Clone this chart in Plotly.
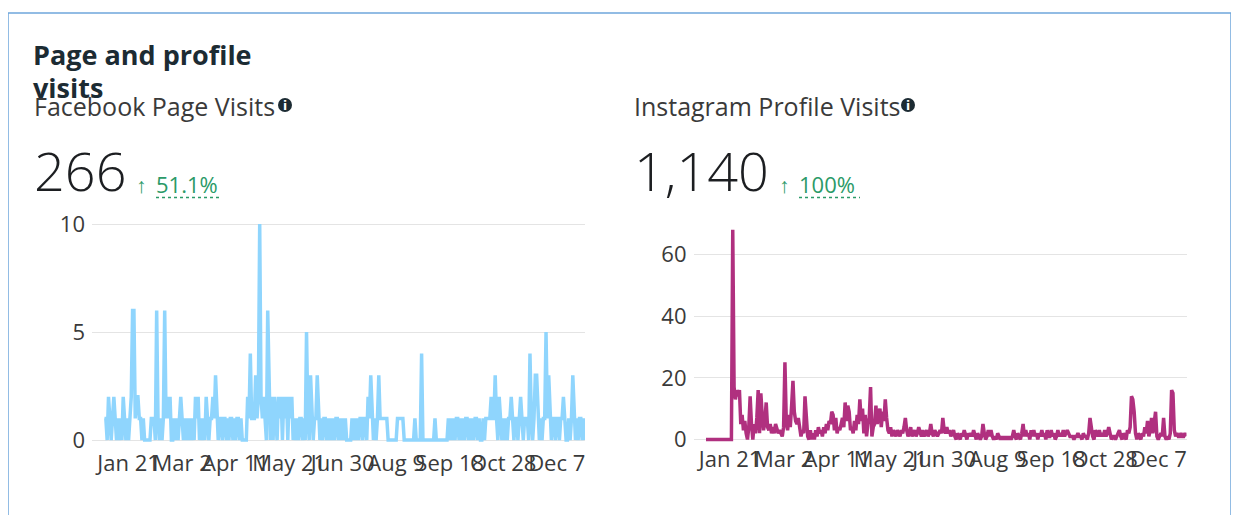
import pandas as pd
import plotly.graph_objects as go


# =====================================================
# DATA
# =====================================================

start_date = "2023-01-03"

fb_visits = [
    1, 1, 0, 2, 1, 0, 1, 2, 1, 0, 1, 0, 1, 0, 2, 1, 0, 1, 0, 1,
    2, 6, 6, 1, 2, 2, 1, 1, 0, 1, 0, 0, 0, 0, 0, 1, 1, 1, 0, 6,
    1, 0, 1, 0, 1, 6, 1, 2, 1, 2, 0, 0, 1, 0, 1, 0, 1, 2, 1, 0,
    1, 0, 1, 0, 1, 0, 1, 0, 2, 1, 2, 0, 1, 0, 1, 0, 2, 1, 0, 1,
    1, 2, 1, 3, 1, 0, 1, 1, 0, 1, 1, 0, 1, 0, 1, 1, 0, 1, 0, 1,
    1, 0, 1, 0, 0, 0, 0, 2, 1, 4, 1, 1, 1, 3, 1, 2, 10, 2, 1, 2,
    1, 0, 6, 2, 0, 2, 0, 2, 1, 0, 2, 1, 2, 0, 2, 1, 2, 0, 2, 1,
    2, 0, 1, 0, 1, 0, 1, 1, 0, 1, 0, 5, 1, 0, 3, 1, 0, 1, 1, 3,
    1, 0, 1, 0, 1, 1, 0, 1, 0, 1, 0, 1, 0, 1, 1, 0, 1, 0, 1, 0,
    1, 0, 0, 0, 0, 1, 0, 1, 0, 1, 0, 1, 1, 0, 1, 1, 0, 2, 1, 3,
    1, 0, 1, 0, 1, 3, 1, 1, 1, 1, 1, 1, 0, 0, 0, 0, 0, 0, 0, 1,
    1, 1, 1, 1, 0, 0, 0, 0, 0, 0, 0, 0, 1, 0, 0, 0, 0, 4, 0, 0,
    0, 0, 0, 0, 0, 0, 0, 1, 0, 0, 0, 0, 0, 0, 0, 0, 0, 1, 0, 1,
    0, 1, 0, 1, 1, 0, 1, 0, 1, 0, 1, 1, 0, 1, 0, 1, 0, 1, 1, 0,
    1, 0, 0, 1, 0, 1, 1, 1, 1, 2, 1, 1, 3, 1, 0, 2, 1, 0, 1, 0,
    1, 0, 1, 1, 2, 1, 0, 1, 1, 0, 1, 2, 1, 0, 1, 1, 1, 0, 4, 1,
    0, 1, 3, 3, 1, 0, 1, 0, 1, 1, 5, 1, 3, 1, 0, 1, 1, 0, 1, 1,
    0, 1, 1, 2, 1, 0, 0, 1, 0, 1, 3, 1, 0, 1, 0, 1, 1, 0, 1, 0,
]

ig_visits = [
    0, 0, 0, 0, 0, 0, 0, 0, 0, 0, 0, 0, 0, 0, 0, 0, 0, 0, 0, 0,
    68, 17, 13, 16, 14, 16, 5, 8, 3, 6, 2, 0, 4, 14, 5, 0, 5, 2, 7, 16,
    2, 15, 8, 3, 6, 12, 4, 3, 5, 2, 4, 2, 5, 3, 2, 3, 2, 1, 4, 25,
    6, 3, 8, 4, 11, 19, 9, 6, 5, 7, 4, 1, 3, 2, 14, 6, 1, 0, 3, 0,
    2, 0, 3, 1, 4, 2, 3, 1, 4, 2, 5, 3, 6, 5, 9, 8, 3, 7, 2, 4,
    3, 5, 7, 4, 12, 6, 11, 9, 3, 4, 2, 6, 3, 8, 5, 13, 6, 10, 2, 8,
    1, 5, 7, 17, 1, 4, 5, 11, 5, 8, 10, 4, 9, 6, 13, 7, 3, 2, 4, 1,
    3, 2, 1, 3, 2, 1, 3, 2, 4, 7, 3, 1, 2, 4, 1, 2, 3, 1, 2, 4,
    2, 1, 3, 1, 2, 3, 1, 2, 5, 2, 1, 3, 2, 1, 2, 3, 2, 7, 3, 2,
    4, 2, 3, 1, 2, 3, 1, 0, 2, 1, 0, 2, 1, 3, 1, 0, 2, 1, 2, 1,
    3, 1, 0, 2, 1, 0, 1, 5, 2, 0, 1, 3, 1, 3, 1, 0, 1, 0, 2, 1,
    0, 1, 0, 1, 0, 1, 0, 1, 0, 1, 3, 1, 0, 2, 1, 0, 2, 5, 1, 3,
    1, 2, 0, 3, 1, 3, 1, 2, 0, 2, 1, 3, 1, 2, 0, 3, 1, 1, 3, 1,
    2, 0, 1, 3, 1, 2, 1, 3, 1, 2, 3, 2, 1, 1, 1, 0, 1, 1, 2, 1,
    1, 0, 2, 1, 1, 0, 2, 7, 4, 1, 0, 3, 2, 1, 3, 1, 2, 1, 3, 1,
    2, 4, 2, 0, 1, 1, 0, 1, 2, 3, 1, 0, 2, 1, 0, 3, 2, 4, 14, 13,
    9, 2, 0, 2, 1, 0, 2, 1, 4, 2, 6, 1, 3, 7, 2, 5, 9, 1, 0, 1,
    2, 1, 7, 1, 0, 1, 0, 2, 16, 15, 3, 1, 2, 1, 1, 2, 1, 1, 2, 1,
]

tick_dates = [
    "2023-01-21", "2023-03-02", "2023-04-11", "2023-05-21", "2023-06-30",
    "2023-08-09", "2023-09-18", "2023-10-28", "2023-12-07",
]
tick_labels = [
    "Jan 21", "Mar 2", "Apr 11", "May 21", "Jun 30",
    "Aug 9", "Sep 18", "Oct 28", "Dec 7",
]

fb_total = "266"
fb_change = "51.1%"
ig_total = "1,140"
ig_change = "100%"

fb_dates = pd.date_range(start_date, periods=len(fb_visits), freq="D")
ig_dates = pd.date_range(start_date, periods=len(ig_visits), freq="D")


# =====================================================
# LAYOUT HELPERS (screen pixel -> paper)
# the page body adds an 8px margin, so shift by it
# =====================================================

W, H = 1239, 515
OFF = 8


def px(x):
    return (x - OFF) / W


def py(y):
    return 1 - (y - OFF) / H


FONT = "Segoe UI, Open Sans, sans-serif"
GREEN = "#2B9A68"
DARK = "#1C2B33"
TEXT = "#3A3A3A"

x_range = ["2022-12-24 16:00", "2023-12-28 03:00"]


# =====================================================
# FIGURE
# =====================================================

fig = go.Figure()

fig.add_trace(go.Scatter(
    x=fb_dates, y=fb_visits,
    mode="lines",
    line=dict(color="#8FD5FD", width=3.5),
    xaxis="x", yaxis="y",
    name="Facebook Page Visits",
))

fig.add_trace(go.Scatter(
    x=ig_dates, y=ig_visits,
    mode="lines",
    line=dict(color="#B0307F", width=3.5),
    xaxis="x2", yaxis="y2",
    name="Instagram Profile Visits",
))

xaxis_common = dict(
    type="date",
    range=x_range,
    tickvals=tick_dates,
    ticktext=tick_labels,
    showgrid=False,
    zeroline=False,
    showline=False,
    ticks="",
    tickangle=0,
    tickfont=dict(family=FONT, size=22, color=TEXT),
    ticklabelstandoff=0,
    automargin=False,
    fixedrange=True,
)

yaxis_common = dict(
    showgrid=True,
    gridcolor="#E4E4E4",
    gridwidth=1,
    zeroline=False,
    showline=False,
    ticks="",
    tickfont=dict(family=FONT, size=22, color=TEXT),
    ticklabelstandoff=6,
    automargin=False,
    fixedrange=True,
)

fig.update_layout(
    width=W,
    height=H,
    autosize=False,
    margin=dict(l=0, r=0, t=0, b=0, pad=0),
    paper_bgcolor="white",
    plot_bgcolor="white",
    showlegend=False,
    hovermode=False,
    font=dict(family=FONT),

    xaxis=dict(domain=[px(92), px(585)], anchor="y", **xaxis_common),
    yaxis=dict(
        domain=[py(447.6), py(219.7)], anchor="x",
        range=[-0.35, 10.2], tickvals=[0, 5, 10],
        **yaxis_common
    ),

    xaxis2=dict(domain=[px(693.5), px(1186.5)], anchor="y2", **xaxis_common),
    yaxis2=dict(
        domain=[py(444.1), py(223.7)], anchor="x2",
        range=[-1.5, 70], tickvals=[0, 20, 40, 60],
        **yaxis_common
    ),
)


# =====================================================
# CARD BORDER + HEADERS
# =====================================================

fig.add_shape(
    type="rect", xref="paper", yref="paper",
    x0=px(8), x1=px(1231), y0=-0.2, y1=py(13),
    line=dict(color="#6FA6DB", width=1.5),
    fillcolor="rgba(0,0,0,0)", layer="below",
)


def label(text, x, y, size, color, anchor="left", weight=None, family=FONT):
    fig.add_annotation(
        text=text, xref="paper", yref="paper",
        x=px(x), y=py(y),
        xanchor=anchor, yanchor="middle", showarrow=False,
        font=dict(family=family, size=size, color=color, weight=weight),
    )


label("<b>Page and profile</b>", 31, 54, 27, DARK)
label("<b>visits</b>", 31, 88, 27, DARK)

panels = [
    (32, "Facebook Page Visits", 285, fb_total, 134, 154, 221, fb_change),
    (632, "Instagram Profile Visits", 908, ig_total, 777, 797, 860, ig_change),
]

for x0, title, icon_x, total, arrow_x, pct_x, pct_end, change in panels:

    label(title, x0, 106, 25, TEXT)

    # info icon
    fig.add_shape(
        type="circle", xref="paper", yref="paper",
        x0=px(icon_x - 7), x1=px(icon_x + 7),
        y0=py(105 + 7), y1=py(105 - 7),
        fillcolor=DARK, line=dict(width=0),
    )
    label("<b>i</b>", icon_x, 105.5, 12, "white", anchor="center",
          family="DejaVu Sans")

    label(total, x0, 170, 54, "#1C1E21", weight=300)

    label("↑", arrow_x, 185, 21, GREEN)
    label(change, pct_x, 184, 22, GREEN)

    fig.add_shape(
        type="line", xref="paper", yref="paper",
        x0=px(pct_x + 2), x1=px(pct_end), y0=py(197.5), y1=py(197.5),
        line=dict(color=GREEN, width=1.5, dash="dot"),
    )


fig.write_html("out.html", config={"displayModeBar": False})
